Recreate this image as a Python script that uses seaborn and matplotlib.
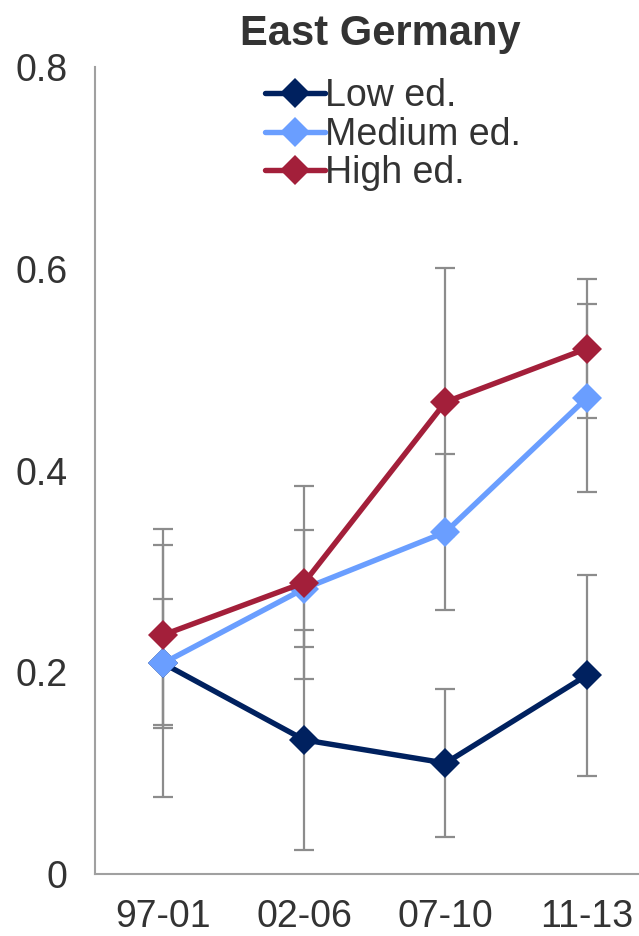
import numpy as np
import pandas as pd
import matplotlib
matplotlib.use("Agg")
import matplotlib.pyplot as plt
import seaborn as sns

periods = ["97-01", "02-06", "07-10", "11-13"]
low_vals = [0.209, 0.133, 0.110, 0.197]
low_err = [0.133, 0.109, 0.073, 0.100]
med_vals = [0.209, 0.283, 0.339, 0.472]
med_err = [0.064, 0.058, 0.077, 0.093]
high_vals = [0.237, 0.289, 0.468, 0.521]
high_err = [0.089, 0.096, 0.133, 0.069]
series_names = ["Low ed.", "Medium ed.", "High ed."]
yticks = [0, 0.2, 0.4, 0.6, 0.8]
ytick_labels = ["0", "0.2", "0.4", "0.6", "0.8"]

colors = {"Low ed.": "#00215F", "Medium ed.": "#6A9EFF", "High ed.": "#A31F3A"}

sns.set_style("white")
plt.rcParams["font.family"] = ["Liberation Sans", "DejaVu Sans"]

df = pd.DataFrame({
    "period": periods * 3,
    "value": low_vals + med_vals + high_vals,
    "err": low_err + med_err + high_err,
    "series": [s for s in series_names for _ in periods],
})

fig = plt.figure(figsize=(6.39, 9.36), dpi=100)
ax = fig.add_axes([0.149, 0.0662, 0.851, 0.862])

# error bars
for s in series_names:
    sub = df[df.series == s]
    ax.errorbar(sub["period"], sub["value"], yerr=sub["err"], fmt="none",
                ecolor="#8C8C8C", elinewidth=1.6, capsize=7, capthick=1.6, zorder=1)

sns.lineplot(data=df, x="period", y="value", hue="series", hue_order=series_names,
             palette=colors, marker="D", markersize=15, markeredgewidth=0,
             linewidth=3.9, sort=False, ax=ax, zorder=3)

ax.set_xlim(-0.48, 3.37)
ax.set_ylim(0, 0.8)
ax.set_yticks(yticks)
ax.set_yticklabels(ytick_labels)
ax.set_xlabel("")
ax.set_ylabel("")
ax.tick_params(axis="both", length=0, labelsize=27, colors="#333333")
ax.tick_params(axis="y", pad=20)
ax.tick_params(axis="x", pad=18)
for side in ["top", "right"]:
    ax.spines[side].set_visible(False)
for side in ["left", "bottom"]:
    ax.spines[side].set_color("#A0A0A0")
    ax.spines[side].set_linewidth(1.5)

ax.set_title("East Germany", fontsize=30, fontweight="bold", color="#333333", pad=16, x=0.525)

leg = ax.legend(loc="upper left", bbox_to_anchor=(0.285, 1.005), frameon=False,
                fontsize=27, handlelength=1.6, handletextpad=0.0, labelspacing=0.07,
                borderaxespad=0)
for t in leg.get_texts():
    t.set_color("#333333")

fig.savefig("out.png", dpi=100)
